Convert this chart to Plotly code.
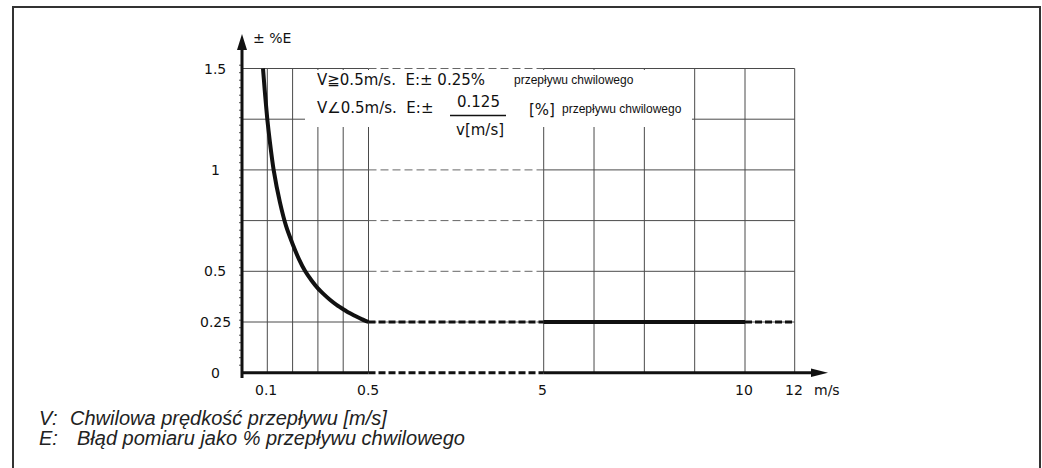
import numpy as np
import plotly.graph_objects as go

# ---------------- data ----------------
curve_v = [0.083, 0.09, 0.1, 0.11, 0.125, 0.15, 0.175, 0.2, 0.225, 0.25, 0.275,
           0.3, 0.325, 0.35, 0.375, 0.4, 0.425, 0.45, 0.475, 0.5]
curve_e = [1.5, 1.39, 1.25, 1.14, 1.0, 0.84, 0.72, 0.635, 0.56, 0.5, 0.455,
           0.416, 0.385, 0.357, 0.333, 0.313, 0.294, 0.278, 0.263, 0.25]
flat_e = 0.25
dash_left_v = [0.5, 5]
solid_v = [5, 10]
dash_right_v = [10, 12]

x_tick_vals = [0.1, 0.5, 5, 10, 12]
x_tick_text = ["0.1", "0.5", "5", "10", "12"]
x_unit = "m/s"
y_tick_vals = [0, 0.25, 0.5, 1, 1.5]
y_tick_text = ["0", "0.25", "0.5", "1", "1.5"]
x_grid_vals = [0.1, 0.2, 0.3, 0.4, 0.5, 5, 6.25, 7.5, 8.75, 10, 12]
y_grid_vals = [0.25, 0.5, 0.75, 1, 1.25, 1.5]
y_title = "± %E"

line1_main = "V≧0.5m/s.  E:± 0.25%"
line_small = "przepływu chwilowego"
line2_main = "V∠0.5m/s.  E:±"
frac_num = "0.125"
frac_den = "v[m/s]"
pct = "[%]"
foot_keys = ["V:", "E:"]
foot_text = ["Chwilowa prędkość przepływu [m/s]",
             "Błąd pomiaru jako % przepływu chwilowego"]

# ---------------- layout helpers (broken x scale) ----------------
W, H = 1042, 468
X0 = 242.0          # pixel of origin
Y0 = 372.7
SY = 202.8          # pixels per unit of E
BREAK_V = [0, 0.5, 5, 10, 12]
BREAK_P = [0, 126.5, 301.7, 503, 552.7]


def pos(v):
    return np.interp(v, BREAK_V, BREAK_P)


def px(x):   # absolute pixel -> x coord
    return x - X0


def py(y):   # absolute pixel -> y coord
    return (Y0 - y) / SY


INK = "#111111"
GRID = "#4a4a4a"
DFONT = "DejaVu Sans"

fig = go.Figure()
shapes = []

# vertical grid
for v in x_grid_vals:
    shapes.append(dict(type="line", layer="below", x0=pos(v), x1=pos(v), y0=0, y1=1.5,
                       line=dict(color=GRID, width=1)))
# horizontal grid
for e in y_grid_vals:
    shapes.append(dict(type="line", layer="below", x0=0, x1=pos(0.5), y0=e, y1=e,
                       line=dict(color=GRID, width=1)))
    shapes.append(dict(type="line", layer="below", x0=pos(0.5), x1=pos(5), y0=e, y1=e,
                       line=dict(color="#666666", width=1, dash="8px,4px")))
    shapes.append(dict(type="line", layer="below", x0=pos(5), x1=pos(12), y0=e, y1=e,
                       line=dict(color=GRID, width=1)))

# white box behind the formulas
shapes.append(dict(type="rect", layer="below", x0=px(305), x1=px(692), y0=py(127), y1=py(70),
                   fillcolor="white", line=dict(width=0)))

# y-axis minor ticks
for k in range(1, 46):
    yy = 372.7 - k * 7.5
    if yy < 60:
        break
    shapes.append(dict(type="line", x0=px(239), x1=px(242), y0=py(yy), y1=py(yy),
                       line=dict(color="#555555", width=1)))

# axes
shapes.append(dict(type="line", x0=0, x1=0, y0=py(378), y1=py(48), line=dict(color=INK, width=3)))
shapes.append(dict(type="path", path=f"M {px(237)},{py(50)} L {px(242)},{py(34)} L {px(247)},{py(50)} Z",
                   fillcolor=INK, line=dict(color=INK, width=0)))
shapes.append(dict(type="line", x0=0, x1=pos(0.5), y0=0, y1=0, line=dict(color=INK, width=3)))
shapes.append(dict(type="line", x0=pos(0.5), x1=pos(5), y0=0, y1=0,
                   line=dict(color=INK, width=3, dash="7px,3px")))
shapes.append(dict(type="line", x0=pos(5), x1=px(814), y0=0, y1=0, line=dict(color=INK, width=3)))
shapes.append(dict(type="path", path=f"M {px(811)},{py(368.5)} L {px(828)},{py(372.7)} L {px(811)},{py(377)} Z",
                   fillcolor=INK, line=dict(color=INK, width=0)))

# fraction bar
shapes.append(dict(type="line", x0=px(450), x1=px(506), y0=py(115.5), y1=py(115.5),
                   line=dict(color=INK, width=1.5)))

# frame
shapes.append(dict(type="rect", xref="paper", yref="paper", x0=13 / W, x1=1040 / W,
                   y0=-0.05, y1=1 - 7 / H, line=dict(color="#333333", width=2)))

# data traces
fig.add_trace(go.Scatter(x=pos(curve_v), y=curve_e, mode="lines",
                         line=dict(color=INK, width=4, shape="spline", smoothing=0.6)))
fig.add_trace(go.Scatter(x=pos(dash_left_v), y=[flat_e] * 2, mode="lines",
                         line=dict(color=INK, width=3, dash="7px,3px")))
fig.add_trace(go.Scatter(x=pos(solid_v), y=[flat_e] * 2, mode="lines",
                         line=dict(color=INK, width=4)))
fig.add_trace(go.Scatter(x=pos(dash_right_v), y=[flat_e] * 2, mode="lines",
                         line=dict(color=INK, width=3, dash="7px,3px")))

ann = []
for v, t in zip(x_tick_vals, x_tick_text):
    ann.append(dict(x=pos(v) - 1, y=py(390), text=t, xanchor="center", yanchor="middle",
                    showarrow=False, font=dict(family=DFONT, size=14, color=INK)))
ann.append(dict(x=px(812), y=py(390), text=x_unit, xanchor="left", yanchor="middle",
                showarrow=False, font=dict(family=DFONT, size=14, color=INK)))
for e, t in zip(y_tick_vals, y_tick_text):
    ann.append(dict(x=px(215), y=e, text=t, xanchor="center", yanchor="middle",
                    showarrow=False, font=dict(family=DFONT, size=14, color=INK)))
ann.append(dict(x=px(251), y=py(38), text=y_title, xanchor="left", yanchor="middle",
                showarrow=False, font=dict(family=DFONT, size=14, color=INK)))

ann.append(dict(x=px(315), y=py(80), text=line1_main, xanchor="left", yanchor="middle",
                showarrow=False, font=dict(family=DFONT, size=15, color=INK)))
ann.append(dict(x=px(512), y=py(80), text=line_small, xanchor="left", yanchor="middle",
                showarrow=False, font=dict(family="Liberation Sans", size=12, color=INK)))
ann.append(dict(x=px(315), y=py(108), text=line2_main, xanchor="left", yanchor="middle",
                showarrow=False, font=dict(family=DFONT, size=15, color=INK)))
ann.append(dict(x=px(478), y=py(102), text=frac_num, xanchor="center", yanchor="middle",
                showarrow=False, font=dict(family=DFONT, size=15, color=INK)))
ann.append(dict(x=px(480), y=py(130), text=frac_den, xanchor="center", yanchor="middle",
                showarrow=False, font=dict(family=DFONT, size=15, color=INK)))
ann.append(dict(x=px(542), y=py(110), text=pct, xanchor="center", yanchor="middle",
                showarrow=False, font=dict(family=DFONT, size=15, color=INK)))
ann.append(dict(x=px(560), y=py(109), text=line_small, xanchor="left", yanchor="middle",
                showarrow=False, font=dict(family="Liberation Sans", size=12, color=INK)))

for i, (k, t) in enumerate(zip(foot_keys, foot_text)):
    yy = 418 + i * 20
    ann.append(dict(xref="paper", x=37 / W, y=py(yy), text=f"<i>{k}</i>", xanchor="left",
                    yanchor="middle", showarrow=False,
                    font=dict(family="Liberation Sans", size=20, color="#222222")))
    ann.append(dict(xref="paper", x=(68 + 7 * i) / W, y=py(yy), text=f"<i>{t}</i>", xanchor="left",
                    yanchor="middle", showarrow=False,
                    font=dict(family="Liberation Sans", size=20, color="#222222")))

fig.update_layout(
    width=W, height=H, margin=dict(l=0, r=0, t=0, b=0),
    paper_bgcolor="white", plot_bgcolor="white", showlegend=False,
    xaxis=dict(range=[px(0), px(W)], visible=False, fixedrange=True),
    yaxis=dict(range=[py(H), py(0)], visible=False, fixedrange=True),
    shapes=shapes, annotations=ann,
)

fig.write_html("out.html", config={"displayModeBar": False})
